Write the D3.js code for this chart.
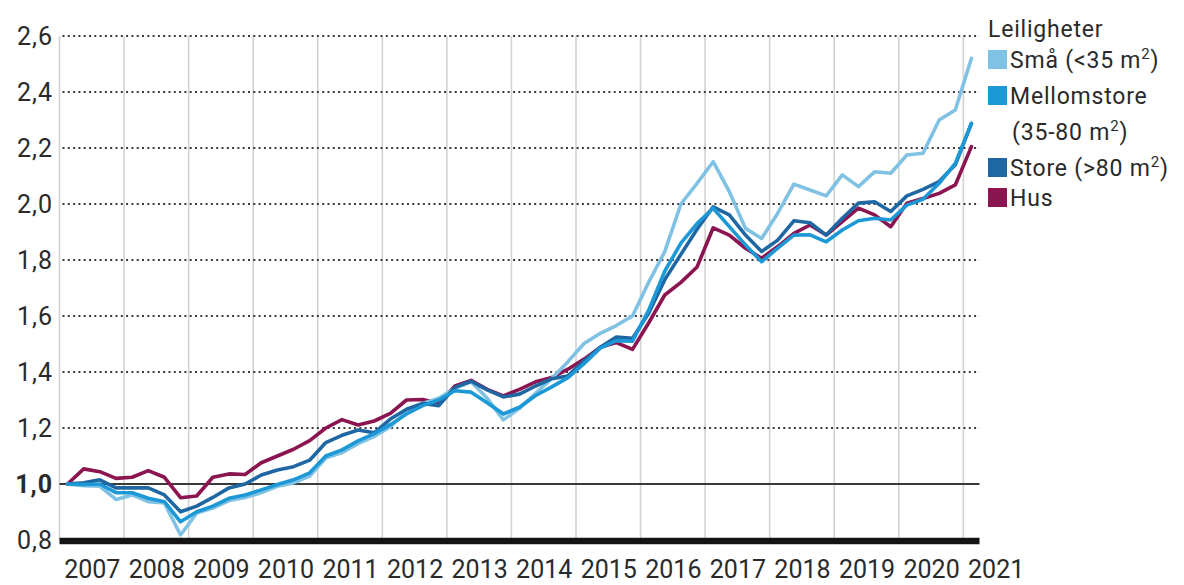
<!DOCTYPE html>
<html>
<head>
<meta charset="utf-8">
<script src="https://cdn.jsdelivr.net/npm/d3@7"></script>
<style>
  html, body { margin: 0; padding: 0; background: #fff; }
  svg { display: block; }
  text { font-family: Roboto, "Liberation Sans", sans-serif; fill: #2a2a2a; }
</style>
</head>
<body>
<svg id="chart" width="1184" height="585"></svg>
<script>
// ---- data ----
const years = [2007, 2008, 2009, 2010, 2011, 2012, 2013, 2014, 2015, 2016, 2017, 2018, 2019, 2020, 2021];
// quarterly observations 2007 K1 .. 2021 K1
const quarters = years.flatMap(y => ["K1", "K2", "K3", "K4"].map(q => y + " " + q)).slice(0, 57);

const sma = [1.0, 0.994, 0.992, 0.945, 0.961, 0.937, 0.932, 0.818, 0.896, 0.914,
  0.941, 0.952, 0.969, 0.992, 1.004, 1.028, 1.093, 1.112, 1.144, 1.17,
  1.205, 1.258, 1.288, 1.306, 1.342, 1.365, 1.306, 1.229, 1.27, 1.324,
  1.377, 1.437, 1.502, 1.538, 1.566, 1.60, 1.72, 1.83, 2.0, 2.074,
  2.151, 2.044, 1.913, 1.877, 1.967, 2.071, 2.05, 2.029, 2.104, 2.062,
  2.115, 2.11, 2.175, 2.181, 2.30, 2.336, 2.52];
const mellomstore = [1.0, 0.998, 1.0, 0.969, 0.969, 0.949, 0.937, 0.865, 0.901, 0.921,
  0.949, 0.961, 0.979, 0.998, 1.015, 1.04, 1.10, 1.122, 1.154, 1.18,
  1.212, 1.25, 1.28, 1.30, 1.333, 1.328, 1.29, 1.25, 1.274, 1.316,
  1.347, 1.38, 1.43, 1.485, 1.512, 1.51, 1.62, 1.76, 1.86, 1.93,
  1.985, 1.919, 1.854, 1.794, 1.842, 1.889, 1.89, 1.865, 1.907, 1.94,
  1.949, 1.943, 1.996, 2.017, 2.074, 2.145, 2.288];
const store = [1.0, 1.004, 1.015, 0.986, 0.986, 0.986, 0.961, 0.901, 0.921, 0.952,
  0.986, 1.0, 1.032, 1.05, 1.062, 1.085, 1.148, 1.174, 1.193, 1.183,
  1.232, 1.267, 1.288, 1.28, 1.345, 1.367, 1.336, 1.311, 1.321, 1.35,
  1.376, 1.386, 1.44, 1.488, 1.525, 1.52, 1.61, 1.73, 1.82, 1.91,
  1.99, 1.961, 1.889, 1.83, 1.871, 1.94, 1.933, 1.889, 1.949, 2.003,
  2.008, 1.973, 2.029, 2.052, 2.08, 2.14, 2.288];
const hus = [1.0, 1.054, 1.044, 1.02, 1.024, 1.048, 1.024, 0.951, 0.957, 1.024,
  1.036, 1.034, 1.076, 1.10, 1.124, 1.155, 1.20, 1.23, 1.211, 1.225,
  1.252, 1.30, 1.302, 1.288, 1.35, 1.37, 1.338, 1.315, 1.338, 1.365,
  1.38, 1.41, 1.446, 1.488, 1.505, 1.481, 1.575, 1.675, 1.72, 1.775,
  1.915, 1.889, 1.842, 1.806, 1.848, 1.895, 1.925, 1.889, 1.937, 1.985,
  1.961, 1.919, 2.003, 2.02, 2.038, 2.068, 2.205];

const yTicks = [0.8, 1.0, 1.2, 1.4, 1.6, 1.8, 2.0, 2.2, 2.4, 2.6];
const legendTitle = "Leiligheter";
const seriesNames = ["Små", "Mellomstore", "Store", "Hus"];
const seriesColors = ["#80c2e4", "#1b98d5", "#1f67a3", "#8a1550"];

// ---- scales ----
const svg = d3.select("#chart");
const x = d3.scaleLinear().domain([2007, 2021.25]).range([59.5, 979.5]);
const y = d3.scaleLinear().domain([0.8, 2.6]).range([540, 36]);
const qTime = (i) => 2007 + 0.125 + 0.25 * i;

// vertical gridlines (year boundaries)
svg.append("g").selectAll("line").data(years).join("line")
  .attr("x1", d => x(d)).attr("x2", d => x(d))
  .attr("y1", y(2.6)).attr("y2", y(0.8))
  .attr("stroke", "#d2d2d2").attr("stroke-width", 1.6);

// dotted horizontal gridlines
svg.append("g").selectAll("line").data(yTicks.filter(v => v > 1.05)).join("line")
  .attr("x1", x(2007) + 3).attr("x2", x(2021.25))
  .attr("y1", d => y(d)).attr("y2", d => y(d))
  .attr("stroke", "#3a3a3a").attr("stroke-width", 2.2)
  .attr("stroke-dasharray", "2,3.3");

// 1,0 reference line
svg.append("line")
  .attr("x1", x(2007)).attr("x2", x(2021.25))
  .attr("y1", y(1.0)).attr("y2", y(1.0))
  .attr("stroke", "#3a3a3a").attr("stroke-width", 2);

// series lines
const line = d3.line().x((d, i) => x(qTime(i))).y(d => y(d)).curve(d3.curveLinear);
const seriesData = [sma, mellomstore, store, hus];
const drawOrder = [3, 0, 2, 1];
svg.append("g").selectAll("path").data(drawOrder).join("path")
  .attr("d", k => line(seriesData[k]))
  .attr("fill", "none")
  .attr("stroke", k => seriesColors[k])
  .attr("stroke-width", 3.6)
  .attr("stroke-linejoin", "round")
  .attr("stroke-linecap", "round");

// thick baseline at 0,8
svg.append("line")
  .attr("x1", x(2007)).attr("x2", x(2021.25))
  .attr("y1", y(0.8) + 1).attr("y2", y(0.8) + 1)
  .attr("stroke", "#141414").attr("stroke-width", 6.5);

// y axis labels
const yAxis = d3.axisLeft(y).tickValues(yTicks).tickSize(0).tickPadding(0)
  .tickFormat(d => d3.format(".1f")(d).replace(".", ","));
const gy = svg.append("g").attr("transform", "translate(53,0)").call(yAxis);
gy.select(".domain").remove();
gy.selectAll("text")
  .attr("font-size", 25).attr("fill", "#2a2a2a")
  .style("font-family", "Roboto, sans-serif")
  .attr("font-weight", d => d === 1.0 ? 700 : 400)
  .attr("letter-spacing", 1);

// x axis labels (centered in each year)
const xAxis = d3.axisBottom(x).tickValues(years.map(d => d + 0.5)).tickSize(0).tickPadding(0)
  .tickFormat(d => String(Math.floor(d)));
const gx = svg.append("g").attr("transform", "translate(0,560)").call(xAxis);
gx.select(".domain").remove();
gx.selectAll("text")
  .attr("font-size", 25).attr("fill", "#2a2a2a")
  .style("font-family", "Roboto, sans-serif")
  .attr("dy", "0.7em");

// legend
const lg = svg.append("g");
lg.append("text").attr("x", 988).attr("y", 37).attr("font-size", 23)
  .attr("letter-spacing", 0.8).text(legendTitle);

const legendRows = [
  { k: 0, y: 68, parts: [["Små (<35 m", false], ["2", true], [")", false]] },
  { k: 1, y: 104, parts: [["Mellomstore", false]] },
  { k: null, y: 140, parts: [["(35-80 m", false], ["2", true], [")", false]] },
  { k: 2, y: 176, parts: [["Store (>80 m", false], ["2", true], [")", false]] },
  { k: 3, y: 206, parts: [["Hus", false]] }
];
legendRows.forEach(r => {
  if (r.k !== null) {
    lg.append("rect").attr("x", 988).attr("y", r.y - 18).attr("width", 19).attr("height", 19)
      .attr("fill", seriesColors[r.k]);
  }
  const t = lg.append("text").attr("x", r.k !== null ? 1010 : 1012).attr("y", r.y)
    .attr("font-size", 23).attr("letter-spacing", 0.8);
  r.parts.forEach(([s, sup]) => {
    if (sup) {
      t.append("tspan").attr("font-size", 15).attr("dy", -9).text(s);
    } else {
      const ts = t.append("tspan").text(s);
      if (t.selectAll("tspan").size() > 1) ts.attr("dy", 9);
    }
  });
});
</script>
</body>
</html>
